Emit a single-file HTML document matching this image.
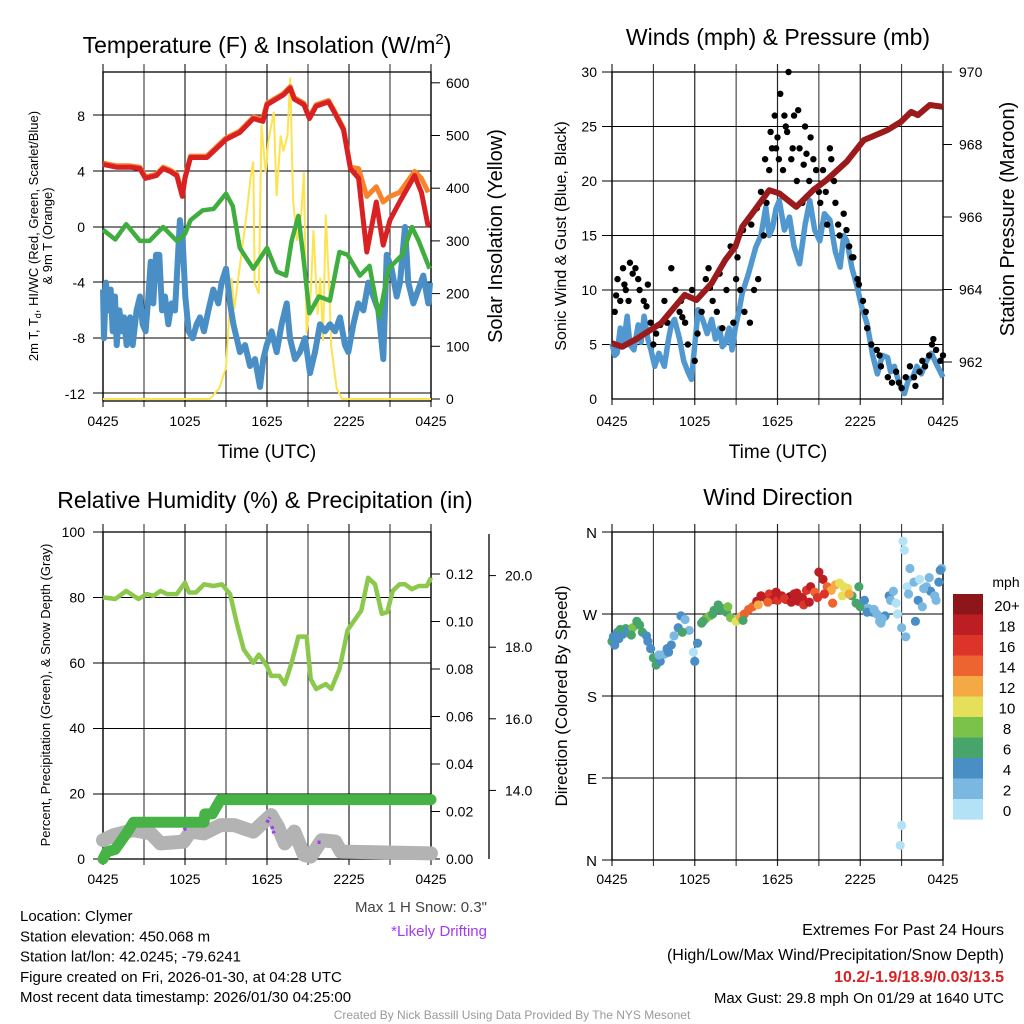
<!DOCTYPE html>
<html><head><meta charset="utf-8"><style>
body{margin:0;background:#fff}
svg{display:block;font-family:"Liberation Sans",Arial,sans-serif}
</style></head><body>
<svg id="c" width="1024" height="1024" viewBox="0 0 1024 1024" xmlns="http://www.w3.org/2000/svg"></svg>
<script>
// ---- data (time in hours since 0425 UTC) ----
const xLabels=["0425","1025","1625","2225","0425"];
const redT=[0,1,2,2.7,3.1,3.9,4.4,4.9,5.4,5.8,6.0,6.4,7.6,9.0,10.0,11.0,11.7,12.0,13.2,13.7,14.0,14.7,15.1,15.6,16.5,16.9,17.6,18.1,18.7,19.3,20.0,20.5,21.0,21.7,22.8,23.3,23.8];
const redV=[4.5,4.3,4.3,4.2,3.5,3.7,4.2,4.0,3.7,2.2,3.5,5.0,5.0,6.3,6.8,7.8,7.6,8.8,9.5,10.0,9.2,8.8,7.8,8.7,9.0,8.3,7.0,4.2,3.5,-1.8,1.8,-1.3,0.5,1.8,3.7,2.5,0.0];
const orangeV=[4.6,4.4,4.4,4.3,3.6,3.8,4.3,4.1,3.8,2.4,3.6,5.1,5.1,6.4,6.9,7.9,7.8,8.9,9.6,10.1,9.3,8.9,7.9,8.8,9.1,8.4,7.1,4.3,4.2,2.2,2.9,1.8,2.2,2.5,4.0,3.5,2.5];
const dewT=[0,0.9,1.7,2.7,3.4,4.4,5.4,6.0,6.4,7.3,8.1,9.0,9.5,10.0,11.0,12.0,12.7,13.4,13.8,14.3,14.7,15.1,15.8,16.6,17.3,17.9,18.8,19.5,20.2,20.9,21.9,22.6,23.1,23.9];
const dewV=[-0.2,-0.9,0.2,-1.0,-1.0,0.0,-1.0,-0.5,0.5,1.2,1.3,2.4,1.5,-1.5,-3.0,-1.5,-3.2,-3.5,-1.0,0.8,-2.5,-6.2,-5.0,-5.3,-1.8,-2.0,-3.5,-2.8,-6.5,-3.0,-2.0,0.0,-1.0,-3.0];
const wcT=[0,0.07,0.22,0.39,0.56,0.71,0.88,1.0,1.2,1.39,1.54,1.73,1.98,2.17,2.46,2.71,2.9,3.12,3.32,3.49,3.68,3.88,4.12,4.32,4.54,4.78,5.02,5.27,5.44,5.63,5.83,6.02,6.27,6.56,6.85,7.1,7.39,7.71,8.07,8.44,8.68,9.0,9.29,9.54,9.78,10.02,10.39,10.76,11.12,11.49,11.73,11.98,12.34,12.71,13.07,13.44,13.68,14.05,14.41,14.78,15.15,15.51,15.88,16.24,16.61,16.98,17.34,17.71,17.95,18.32,18.68,19.05,19.41,19.78,20.15,20.51,20.76,21.12,21.49,21.73,22.1,22.34,22.71,23.07,23.44,23.8,23.93];
const wcV=[-4.5,-8,-4,-6,-4.5,-7.5,-5,-8.5,-6,-7.5,-6.5,-8.5,-6.5,-8.5,-6,-5,-7,-7.5,-5,-2.5,-5.5,-2,-2,-6,-5,-7,-5.5,-6,-3,0.5,-1,-5,-7.5,-8,-7,-6.5,-7.5,-6,-4.5,-5.5,-4,-3,-5.5,-7,-8,-9,-8.5,-10,-9.5,-11.5,-9.5,-8.5,-7.5,-9,-7,-5.5,-8,-9.5,-9,-8,-10.5,-9,-7,-7.5,-7,-7.5,-6.5,-8.5,-9,-7,-5.5,-6,-4,-5,-6,-9.5,-2,-3,-5,-4,0,-4,-5.5,-4.5,-3.5,-5.5,-4];
const solT=[0,7.8,8.5,9.0,9.4,9.6,10.0,10.5,10.8,11.0,11.1,11.4,11.6,11.9,12.1,12.5,12.7,13.0,13.2,13.5,13.7,13.9,14.2,14.5,14.7,14.9,15.2,15.4,15.7,15.9,16.1,16.3,16.6,16.7,17.1,17.5,17.9,24];
const solV=[0,0,20,60,230,170,250,350,420,450,220,200,520,430,490,545,385,500,470,500,610,380,300,350,430,125,200,320,160,230,110,350,180,100,20,0,0,0];
// winds
const windT=[0,0.2,0.37,0.6,0.8,1.1,1.3,1.59,1.9,2.1,2.33,2.6,2.82,3.1,3.4,3.8,4.1,4.3,4.53,4.9,5.2,5.5,5.76,6.0,6.25,6.6,6.9,7.23,7.5,7.8,8.0,8.21,8.5,8.7,8.95,9.2,9.44,9.9,10.42,10.8,11.15,11.4,11.64,11.9,12.13,12.5,12.87,13.2,13.6,14.0,14.34,14.7,15.07,15.4,15.81,16.2,16.54,16.8,17.03,17.4,17.77,18.1,18.5,18.9,19.24,19.6,19.98,20.2,20.47,20.8,21.2,21.5,21.81,22.1,22.43,22.8,23.16,23.6,24];
const windV=[5.1,4.0,4.2,6.5,4.8,7.6,5.0,4.5,6.8,5.2,7.6,5.5,4.5,3.0,4.2,3.0,5.5,6.8,7.3,5.5,3.5,2.5,1.8,5.0,8.2,7.2,6.0,7.3,5.5,6.5,4.8,5.1,6.5,4.5,6.6,8.0,9.7,11.5,13.9,15.0,17.6,15.0,15.7,17.5,18.2,15.5,16.7,14.0,12.4,16.0,18.2,15.5,14.5,17.0,16.4,13.5,12.1,15.0,14.5,12.0,10.3,8.5,6.9,4.0,2.3,4.0,3.8,2.5,3.0,1.5,0.5,1.8,2.0,3.0,2.3,3.5,4.2,3.0,2.0];
const gustT=[0.2,0.4,0.6,0.8,1,1.2,1.5,1.7,2,2.3,2.5,2.8,3,3.2,3.5,3.8,4,4.3,4.6,5,5.3,5.5,5.8,6.0,6.2,6.5,6.8,7,7.3,7.6,8,8.3,8.6,9,9.3,9.6,10,10.3,10.6,11,11.2,11.4,11.6,11.8,12,12.2,12.4,12.6,12.8,13,13.2,13.4,13.6,13.8,14,14.3,14.6,15,15.3,15.6,15.9,16.2,16.5,16.8,17.2,17.5,17.8,18.2,18.5,18.8,19.2,19.5,20,20.3,20.6,21,21.3,21.6,22,22.3,22.7,23,23.2,23.5,23.8,
 0.3,0.9,1.3,1.9,2.6,4.9,5.1,7.1,7.8,8.8,9.1,9.5,10.1,10.5,10.8,11.1,11.5,11.9,12.1,12.5,12.7,13.1,13.5,13.9,14.1,14.4,14.8,15.1,15.5,15.8,16.1,16.4,17.0,17.4,17.9,18.4,19.4,20.8,21.9,22.5,23.3,24];
const gustV=[8,11,9,12,10,9,11.5,12,10,9,8.5,7,5,6,6.8,9,7,12,10,9,7,5,10,3.5,6,8,11,12,9,8,6.5,10,14,11,10,8,7,10,11,15,18,21,23,26,24,28,21,25,30,22,26,20,23,18,25,20,22,19,21,16,22,18,15,17,14,13,11,9,6.5,5,4.5,3,2,1.5,2.5,1,2,3,1.2,2.5,3,4,5,4.5,3.5,
 9.5,10.5,12.5,11,10.5,8,7.5,10.2,11.5,7,13,15.5,16,17.5,19,22,24.5,23,22,26,24.5,23,26.5,21.5,22.5,24,21,18,19,23,20,16,15.5,13,10.5,8,4,1.5,2,3.5,5.5,4];
const presT=[0,0.74,1.84,3.55,5.27,6.13,7.23,8.21,8.95,9.44,10.17,11.4,12.13,13.36,14.58,15.56,17.03,18.26,19.98,20.96,21.69,22.18,23.04,24];
const presV=[962.52,962.42,962.65,963.07,963.85,963.71,964.17,964.81,965.18,965.73,966.10,966.74,966.65,966.28,966.74,967.02,967.53,968.12,968.40,968.63,968.90,968.81,969.09,969.04];
// RH / precip / snow
const rhT=[0,0.9,1.7,2.6,3.2,3.7,4.2,4.7,5.4,6.0,6.3,6.8,7.4,8.1,8.7,9.3,9.8,10.3,11.0,11.4,12.0,12.3,12.9,13.3,13.8,14.3,14.9,15.2,15.6,16.3,16.7,17.3,17.7,17.9,18.9,19.4,19.9,20.4,20.8,21.2,21.7,22.1,22.6,23.1,23.7,24.0];
const rhV=[80,79.5,82,79.5,81,80.5,82,81,81,84.5,81.5,81.5,84,83.5,84,81,72,64,60,62.5,59,56,56,53.5,60,68,68,55,52,53.5,52,58,66,70,76,86,84,75,75.5,82,84,84,82.5,83.5,83.5,86];
const pcpT=[0,0.27,0.88,1.25,1.86,2.23,7.4,7.45,8.0,8.6,24];
const pcpV=[0,0.003,0.004,0.007,0.012,0.0155,0.0155,0.019,0.019,0.025,0.025];
const snowT=[0,0.8,2.2,3.5,4.2,5.9,6.4,7.4,8.6,9.6,11.0,12.3,12.8,13.3,14.0,14.7,15.2,16.0,17.0,17.4,24];
const snowV=[12.61,12.75,12.89,12.80,12.52,12.57,12.85,12.80,13.03,13.03,12.85,13.31,12.99,12.52,12.85,12.20,12.15,12.61,12.57,12.29,12.24];
const driftT=[5.9,6.1,12.0,12.2,12.35,12.5,15.7,16.0];
const driftV=[12.9,12.95,13.1,13.25,13.0,12.8,12.55,12.55];
// wind direction
const dirT=[0,0.2,0.4,0.6,0.8,1.0,1.2,1.5,1.8,2.0,2.2,2.5,2.8,3.0,3.2,3.5,3.8,4.0,4.3,4.5,4.8,5.0,5.3,5.6,5.9,6.0,6.2,6.5,6.8,7.1,7.4,7.7,8.0,8.3,8.6,9.0,9.3,9.6,9.9,10.2,10.5,10.8,11.1,11.4,11.7,12.0,12.3,12.6,12.9,13.2,13.5,13.8,14.1,14.4,14.7,15.0,15.3,15.6,15.9,16.2,16.5,16.8,17.1,17.4,17.7,18.0,18.3,18.6,18.9,19.2,19.5,19.8,20.1,20.4,20.7,21.0,21.1,21.2,21.3,21.4,21.6,21.9,22.2,22.5,22.8,23.1,23.4,23.7,23.9,21.0,20.9,
 0.1,0.5,1.4,2.6,3.4,4.1,5.1,6.6,7.3,7.9,8.4,9.5,10.6,11.3,11.9,12.5,13.0,13.4,13.9,14.3,14.9,15.4,16.0,16.7,17.2,17.9,18.5,19.0,19.6,20.2,20.6,21.5,22.0,22.6,23.0,23.5,23.8,22.3,19.4];
const dirV=[240,236,250,253,248,254,252,255,262,258,250,246,232,222,214,218,226,232,236,246,255,268,264,252,228,218,238,260,265,268,274,280,276,272,266,262,267,270,275,278,284,290,288,292,286,285,290,286,289,292,284,288,296,300,294,316,308,300,296,302,304,300,298,290,282,278,285,276,272,270,260,268,290,295,270,255,350,340,245,300,320,305,285,278,300,295,290,305,320,38,16,
 245,243,247,240,225,228,250,262,270,275,278,263,280,283,294,287,283,293,280,283,288,292,282,290,292,300,272,275,265,285,282,292,262,298,310,285,318,308,262];
const dirS=[6,4,4,6,5,6,4,8,6,7,6,5,4,6,6,4,3,4,4,3,4,4,2,3,1,4,4,7,8,8,6,6,6,7,8,10,12,14,14,15,18,19,18,16,18,17,18,16,20,18,18,18,16,19,14,18,18,14,12,12,10,11,10,7,6,6,4,2,4,3,2,4,4,3,1,2,1,0,2,0,3,2,4,2,3,4,3,4,3,0,0,
 4,5,6,4,3,4,7,6,6,7,8,6,12,14,18,17,18,19,16,18,17,16,15,11,12,6,4,3,2,2,1,3,4,2,3,2,5,1,3];
const legendLabels=["20+","18","16","14","12","10","8","6","4","2","0"];
const speedColors=["#b3e1f6","#7ab8e1","#4a8ec6","#47a56c","#7bc24a","#e6df5a","#f5a945","#ee6430","#dc3428","#bd1e24","#8e161a"];

// ---- helpers ----
const S=document.getElementById('c');const NS="http://www.w3.org/2000/svg";
function el(tag,attrs,parent){const e=document.createElementNS(NS,tag);for(const k in attrs)e.setAttribute(k,attrs[k]);(parent||S).appendChild(e);return e;}
function txt(x,y,s,size,anchor,parent,extra){const e=el('text',Object.assign({x:x,y:y,'font-size':size,'text-anchor':anchor||'middle',fill:'#000'},extra||{}),parent);e.textContent=s;return e;}
function poly(T,V,fx,fy){return T.map((t,i)=>fx(t).toFixed(1)+","+fy(V[i]).toFixed(1)).join(" ");}

// axis functions
const X1=t=>103+t*328/24, X2=t=>612+t*331/24;
const Ytemp=v=>227-13.9*v, Ysol=v=>399-0.527*v;
const Ywind=v=>399-10.9*v, Ypres=v=>362-36.25*(v-962);
const Yrh=v=>859-3.27*v, Ypcp=v=>859-2375*v, Ysnow=v=>862-35.8*(v-12);
const Ydir=v=>860-0.911*v;

function panel(name,X,top,bot,hY,xl){
  const g=el('g',{});
  for(let h=0;h<=24;h+=3){const l=el('line',{x1:X(h),x2:X(h),y1:top-8,y2:bot+6,stroke:'#000','stroke-width':h%6?1:1.2,opacity:0.85},g);}
  hY.forEach(y=>{const l=el('line',{x1:X(0)-10,x2:X(24),y1:y,y2:y,stroke:'#000','stroke-width':1},g);});
  el('rect',{x:X(0),y:top,width:X(24)-X(0),height:bot-top,fill:'none',stroke:'#000','stroke-width':1.3},g);
  if(xl){xLabels.forEach((s,i)=>{const t=txt(X(i*6),xl,s,14,'middle',g);});}
  return g;
}

// ===== Panel 1 =====
const p1=panel('temperature-panel',X1,72,401,[115,171,227,282,338,393],426);
[8,4,0,-4,-8,-12].forEach(v=>{const t=txt(85,Ytemp(v)+5,String(v),14,'end',p1);});
[0,100,200,300,400,500,600].forEach(v=>{el('line',{x1:431,x2:440,y1:Ysol(v),y2:Ysol(v),stroke:'#000'},p1);const t=txt(446,Ysol(v)+5,String(v),14,'start',p1);});
const solarLine=el('polyline',{points:poly(solT,solV,X1,Ysol),fill:'none',stroke:'#fde34f','stroke-width':2},p1);

const wcLine=el('polyline',{points:poly(wcT,wcV,X1,Ytemp),fill:'none',stroke:'#4a8ec6','stroke-width':6,'stroke-linejoin':'round'},p1);

const dewLine=el('polyline',{points:poly(dewT,dewV,X1,Ytemp),fill:'none',stroke:'#3fae3f','stroke-width':4.5,'stroke-linejoin':'round'},p1);

const orLine=el('polyline',{points:poly(redT,orangeV,X1,Ytemp),fill:'none',stroke:'#f7842c','stroke-width':5,'stroke-linejoin':'round'},p1);

const redLine=el('polyline',{points:poly(redT,redV,X1,Ytemp),fill:'none',stroke:'#d92124','stroke-width':5,'stroke-linejoin':'round'},p1);

const t1=el('text',{x:267,y:53,'font-size':23,'text-anchor':'middle'},p1);t1.innerHTML='Temperature (F) &amp; Insolation (W/m<tspan dy="-9" font-size="15">2</tspan><tspan dy="9">)</tspan>';

const xt1=txt(267,458,'Time (UTC)',19,'middle',p1);
const yt1=el('text',{transform:'translate(38,236) rotate(-90)','font-size':13,'text-anchor':'middle'},p1);yt1.innerHTML='2m T, T<tspan dy="3" font-size="9">d</tspan><tspan dy="-3">, HI/WC (Red, Green, Scarlet/Blue)</tspan>';

const yt1b=el('text',{transform:'translate(52,236) rotate(-90)','font-size':13,'text-anchor':'middle'},p1);yt1b.textContent='& 9m T (Orange)';

const yr1=el('text',{transform:'translate(502,236) rotate(-90)','font-size':20,'text-anchor':'middle'},p1);yr1.textContent='Solar Insolation (Yellow)';


// ===== Panel 2 =====
const p2=panel('winds-panel',X2,72,399,[72,126.5,181,235.5,290,344.5],426);
[0,5,10,15,20,25,30].forEach(v=>{const t=txt(597,Ywind(v)+5,String(v),14,'end',p2);});
[962,964,966,968,970].forEach(v=>{el('line',{x1:943,x2:952,y1:Ypres(v),y2:Ypres(v),stroke:'#000'},p2);const t=txt(959,Ypres(v)+5,String(v),14,'start',p2);});
const wl=el('polyline',{points:poly(windT,windV,X2,Ywind),fill:'none',stroke:'#5298d0','stroke-width':5.5,'stroke-linejoin':'round'},p2);

gustT.forEach((t,i)=>{const c=el('circle',{cx:X2(t),cy:Ywind(gustV[i]),r:3.2,fill:'#000'},p2);});
const pl=el('polyline',{points:poly(presT,presV,X2,Ypres),fill:'none',stroke:'#9b1a1c','stroke-width':6,'stroke-linejoin':'round'},p2);

const t2=txt(778,45,'Winds (mph) & Pressure (mb)',23,'middle',p2);
const xt2=txt(778,458,'Time (UTC)',19,'middle',p2);
const yt2=el('text',{transform:'translate(566,236) rotate(-90)','font-size':16,'text-anchor':'middle'},p2);yt2.textContent='Sonic Wind & Gust (Blue, Black)';

const yr2=el('text',{transform:'translate(1014,219) rotate(-90)','font-size':20,'text-anchor':'middle'},p2);yr2.textContent='Station Pressure (Maroon)';


// ===== Panel 3 =====
const p3=panel('humidity-panel',X1,532,859,[532,597.5,663,728.5,794,859],884);
[0,20,40,60,80,100].forEach(v=>{const t=txt(85,Yrh(v)+5,String(v),14,'end',p3);});
[0,0.02,0.04,0.06,0.08,0.10,0.12].forEach(v=>{el('line',{x1:431,x2:440,y1:Ypcp(v),y2:Ypcp(v),stroke:'#000'},p3);const t=txt(446,Ypcp(v)+5,v.toFixed(2),14,'start',p3);});
el('line',{x1:489,x2:489,y1:534,y2:859,stroke:'#000','stroke-width':1.3},p3);
[14,16,18,20].forEach(v=>{el('line',{x1:489,x2:496,y1:Ysnow(v),y2:Ysnow(v),stroke:'#000'},p3);const t=txt(505,Ysnow(v)+5,v.toFixed(1),14,'start',p3);});
const sl=el('polyline',{points:poly(snowT,snowV,X1,Ysnow),fill:'none',stroke:'#b3b3b3','stroke-width':14,'stroke-linejoin':'round','stroke-linecap':'round'},p3);

for(let i=0;i<driftT.length;i+=2){const d=el('line',{x1:X1(driftT[i]),y1:Ysnow(driftV[i]),x2:X1(driftT[i+1]),y2:Ysnow(driftV[i+1]),stroke:'#a13bf0','stroke-width':3.5,'stroke-dasharray':'3 2'},p3);}
const prl=el('polyline',{points:poly(pcpT,pcpV,X1,Ypcp),fill:'none',stroke:'#47b347','stroke-width':11,'stroke-linejoin':'round','stroke-linecap':'round'},p3);

const rhl=el('polyline',{points:poly(rhT,rhV,X1,Yrh),fill:'none',stroke:'#8cc84b','stroke-width':4.5,'stroke-linejoin':'round'},p3);

const t3=txt(265,508,'Relative Humidity (%) & Precipitation (in)',23,'middle',p3);
const yt3=el('text',{transform:'translate(50,695) rotate(-90)','font-size':13,'text-anchor':'middle'},p3);yt3.textContent='Percent, Precipitation (Green), & Snow Depth (Gray)';


// ===== Panel 4 =====
const p4=panel('wind-direction-panel',X2,532,860,[532,614,696,778,860],884);
['N','W','S','E','N'].forEach((s,i)=>{const t=txt(597,532+82*i+6,s,15,'end',p4);});
dirT.forEach((t,i)=>{const k=Math.min(10,Math.floor(dirS[i]/2));const c=el('circle',{cx:X2(t),cy:Ydir(dirV[i]),r:4.6,fill:speedColors[k]},p4);});
const t4=txt(778,505,'Wind Direction',23,'middle',p4);
const yt4=el('text',{transform:'translate(567,696) rotate(-90)','font-size':17,'text-anchor':'middle'},p4);yt4.textContent='Direction (Colored By Speed)';

const lg=el('g',{});
txt(1006,587,'mph',14,'middle',lg);
legendLabels.forEach((s,i)=>{const r=el('rect',{x:953,y:594+i*20.5,width:30,height:20.6,fill:speedColors[10-i]},lg);const t=txt(1007,611+i*20.5,s,15,'middle',lg);});

// ===== Text =====
const info=el('g',{});
['Location: Clymer','Station elevation: 450.068 m','Station lat/lon: 42.0245; -79.6241','Figure created on Fri, 2026-01-30, at 04:28 UTC','Most recent data timestamp: 2026/01/30 04:25:00'].forEach((s,i)=>txt(20,921+i*20.3,s,15,'start',info));
const ms=txt(487,912,'Max 1 H Snow: 0.3"',15,'end',null,{fill:'#444'});
const dr=txt(487,936,'*Likely Drifting',15,'end',null,{fill:'#a13bf0'});
const ex=el('g',{});
txt(1004,935,'Extremes For Past 24 Hours',16,'end',ex);
txt(1004,960,'(High/Low/Max Wind/Precipitation/Snow Depth)',16,'end',ex);
txt(1004,982,'10.2/-1.9/18.9/0.03/13.5',16,'end',ex,{fill:'#d92124','font-weight':'bold'});
txt(1004,1003,'Max Gust: 29.8 mph On 01/29 at 1640 UTC',15,'end',ex);
const cr=txt(512,1019,'Created By Nick Bassill Using Data Provided By The NYS Mesonet',12,'middle',null,{fill:'#999'});
</script>
</body></html>
